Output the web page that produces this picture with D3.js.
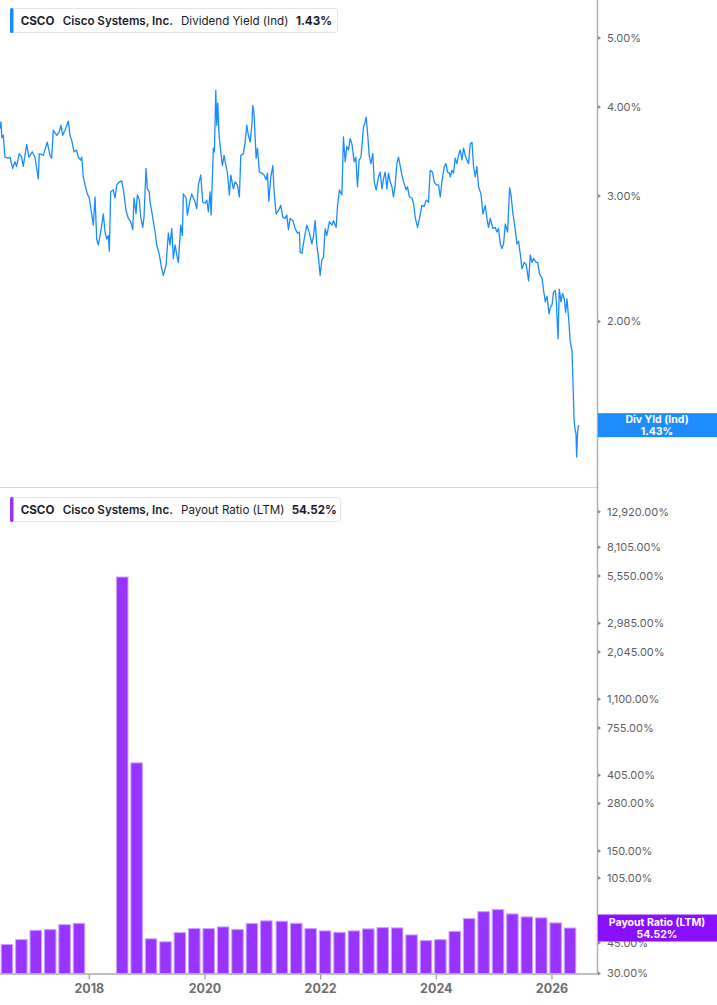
<!DOCTYPE html>
<html><head><meta charset="utf-8">
<script src="https://cdn.jsdelivr.net/npm/d3@7"></script>
<style>
html,body{margin:0;padding:0;background:#fff;}
svg{display:block;font-family:Inter,"Noto Sans",sans-serif;}
</style></head><body>
<svg id="c" width="717" height="1005"></svg>
<script>
// ---- data ----
const yieldDates = [
2016.455,2016.472,2016.490,2016.512,2016.542,2016.599,2016.628,2016.675,2016.714,2016.743,2016.789,2016.830,2016.858,2016.917,2016.957,
2017.014,2017.061,2017.118,2017.135,2017.204,2017.273,2017.320,2017.349,2017.377,2017.436,2017.481,2017.510,2017.540,2017.580,2017.637,
2017.666,2017.696,2017.735,2017.782,2017.810,2017.851,2017.869,2017.896,2017.926,2017.965,
2018.000,2018.042,2018.069,2018.099,2018.128,2018.156,2018.185,2018.215,2018.242,2018.272,2018.301,2018.329,2018.346,2018.370,2018.415,
2018.445,2018.474,2018.519,2018.561,2018.600,2018.635,2018.675,2018.716,2018.751,2018.773,2018.808,2018.830,2018.865,2018.889,2018.924,
2018.946,2018.981,2019.003,2019.038,
2019.050,2019.097,2019.137,2019.166,2019.211,2019.253,2019.280,2019.327,2019.367,2019.396,2019.426,2019.453,2019.483,2019.512,2019.540,
2019.581,2019.609,2019.626,2019.673,2019.696,2019.742,2019.772,2019.799,2019.829,2019.858,2019.886,2019.927,2019.962,
2020.002,2020.031,2020.059,2020.088,2020.106,2020.145,2020.163,2020.187,2020.204,2020.221,2020.244,2020.273,2020.301,2020.330,2020.365,
2020.388,2020.422,2020.446,2020.491,2020.521,2020.561,2020.595,2020.619,2020.664,2020.694,2020.723,2020.751,2020.780,2020.810,2020.827,
2020.849,2020.884,2020.907,2020.941,2020.983,
2021.022,2021.057,2021.080,2021.104,2021.138,2021.173,2021.196,2021.230,2021.270,2021.311,2021.346,2021.386,2021.415,2021.443,2021.472,
2021.519,2021.559,2021.599,2021.633,2021.645,2021.675,2021.715,2021.761,2021.806,2021.848,2021.875,2021.905,2021.934,2021.962,2021.991,
2022.021,2022.048,2022.078,2022.107,2022.152,2022.194,2022.221,2022.268,2022.291,2022.325,2022.367,2022.394,2022.424,2022.453,2022.481,
2022.510,2022.540,2022.580,2022.609,2022.637,2022.666,2022.696,2022.713,2022.740,2022.770,2022.787,2022.817,2022.839,2022.868,2022.903,
2022.926,2022.960,
2023.000,2023.029,2023.059,2023.087,2023.116,2023.145,2023.173,2023.202,2023.232,2023.259,2023.289,2023.318,2023.346,2023.375,2023.404,
2023.433,2023.479,2023.502,2023.536,2023.578,2023.606,2023.635,2023.675,2023.709,2023.751,2023.791,2023.825,2023.865,2023.894,2023.934,
2023.964,2023.998,
2024.038,2024.068,2024.097,2024.137,2024.166,2024.194,2024.228,2024.240,2024.270,2024.298,2024.327,2024.356,2024.384,2024.413,2024.443,
2024.471,2024.500,2024.529,2024.557,2024.586,2024.616,2024.644,2024.673,2024.702,2024.730,2024.772,2024.806,2024.846,2024.875,2024.903,
2024.932,2024.979,
2025.019,2025.048,2025.076,2025.106,2025.135,2025.163,2025.192,2025.232,2025.267,2025.291,2025.325,2025.365,2025.394,2025.422,2025.451,
2025.481,2025.520,2025.555,2025.595,2025.625,2025.654,2025.682,2025.728,2025.751,2025.785,2025.827,2025.855,2025.884,2025.914,2025.948,
2025.971,
2026.000,2026.028,2026.057,2026.075,2026.104,2026.126,2026.156,2026.183,2026.213,2026.235,2026.259,2026.287,2026.316,2026.346,2026.363,
2026.381,2026.398,2026.415,2026.426,2026.443,2026.460
];
const yieldValues = [
3.73,3.81,3.62,3.65,3.40,3.39,3.40,3.28,3.35,3.30,3.44,3.40,3.30,3.54,3.40,
3.46,3.40,3.17,3.44,3.42,3.57,3.42,3.39,3.71,3.65,3.69,3.77,3.65,3.71,3.82,
3.65,3.59,3.46,3.48,3.40,3.37,3.40,3.19,3.11,3.02,
2.98,2.83,2.73,2.99,2.61,2.56,2.64,2.73,2.83,2.67,2.61,2.64,2.51,3.04,3.06,
2.98,3.11,3.14,3.15,3.02,2.86,2.79,2.76,2.69,2.98,2.83,3.01,2.96,2.80,2.71,
2.80,3.28,3.07,3.04,
2.94,2.80,2.67,2.56,2.48,2.37,2.32,2.40,2.66,2.56,2.70,2.45,2.56,2.48,2.42,
2.73,2.64,3.02,2.98,2.82,2.96,3.02,2.98,2.94,2.88,3.11,3.21,2.94,
2.93,2.96,2.85,3.04,2.82,3.50,3.46,4.22,3.77,4.05,3.65,3.46,3.31,3.42,3.30,
3.23,3.01,3.21,3.07,3.14,3.11,2.99,3.42,3.44,3.57,3.77,3.65,3.57,3.77,4.02,
3.90,3.39,3.50,3.24,3.23,
3.21,3.16,3.23,2.95,3.19,3.31,3.04,2.83,2.86,2.91,2.80,2.79,2.82,2.69,2.79,
2.77,2.70,2.66,2.67,2.50,2.49,2.61,2.73,2.66,2.57,2.63,2.77,2.56,2.46,2.32,
2.44,2.46,2.70,2.64,2.76,2.73,2.77,2.71,2.90,3.06,3.01,3.63,3.35,3.52,3.48,
3.61,3.55,3.35,3.40,3.09,3.37,3.40,3.52,3.75,3.81,3.87,3.63,3.42,3.33,3.44,
3.14,3.06,
3.19,3.24,3.07,3.17,3.24,3.07,3.23,3.14,3.09,2.99,3.11,3.33,3.40,3.31,3.21,
3.14,3.06,3.09,2.99,2.98,2.93,2.80,2.71,2.79,2.91,2.90,2.96,2.94,3.26,3.24,
3.14,3.11,
3.11,2.99,3.14,3.30,3.33,3.24,3.23,3.19,3.26,3.23,3.39,3.33,3.42,3.48,3.37,
3.50,3.42,3.37,3.33,3.55,3.57,3.30,3.19,3.30,3.09,3.02,2.83,2.91,2.79,2.71,
2.79,2.70,
2.71,2.67,2.70,2.57,2.53,2.57,2.74,2.67,3.08,3.01,2.83,2.69,2.57,2.59,2.49,
2.37,2.42,2.40,2.28,2.48,2.42,2.45,2.42,2.42,2.33,2.30,2.21,2.13,2.17,2.05,
2.09,
2.11,2.20,2.21,2.13,1.89,2.22,2.13,2.19,2.15,2.06,2.15,2.02,1.87,1.82,1.64,
1.46,1.41,1.39,1.29,1.40,1.43
];
const payoutDates = [
"2016-07-30","2016-10-29","2017-01-28","2017-04-29","2017-07-29","2017-10-28",
"2018-07-28","2018-10-27","2019-01-26","2019-04-27","2019-07-27","2019-10-26",
"2020-01-25","2020-04-25","2020-07-25","2020-10-24","2021-01-23","2021-05-01",
"2021-07-31","2021-10-30","2022-01-29","2022-04-30","2022-07-30","2022-10-29",
"2023-01-28","2023-04-29","2023-07-29","2023-10-28","2024-01-27","2024-04-27",
"2024-07-27","2024-10-26","2025-01-25","2025-04-26","2025-07-26","2025-10-25",
"2026-01-24","2026-04-25"
];
const payoutValues = [
43.9,46.8,52.9,53.4,57.0,58.0,
5480,477,47.3,45.5,51.3,54.1,
54.1,55.3,53.4,57.8,59.9,59.6,
58.0,54.1,52.5,51.5,52.5,53.9,
54.8,54.6,49.8,46.2,46.8,52.2,
61.7,67.6,69.4,65.6,63.1,62.3,
58.3,54.52
];
const yieldTicks = [2, 3, 4, 5];
const payoutTicks = [30, 45, 55, 105, 150, 280, 405, 755, 1100, 2045, 2985, 5550, 8105, 12920];
const yearTicks = [2018, 2020, 2022, 2024, 2026];
const lastYield = 1.43;
const lastPayout = 54.52;

// ---- drawing ----
const axisX = 597;
const topBottom = 487.5, botTop = 490, baseY = 973.5;
const blue = "#1a8cff", purple = "#9933ff", badgePurple = "#8a0fff";
const decYear = y => new Date(Date.UTC(2018,0,1) + (y-2018)*365.25*864e5);
const parse = d3.utcParse("%Y-%m-%d");
const svg = d3.select("#c");

const x = d3.scaleUtc().domain([decYear(2018), decYear(2026)]).range([89.3, 552]);
const yTop = d3.scaleLog().domain([1.169, 5.652]).range([topBottom, 0]);
const yBot = d3.scaleLog().domain([30, 12920]).range([baseY, 511.7]);

const defs = svg.append("defs");
defs.append("clipPath").attr("id","ct").append("rect").attr("x",0).attr("y",0).attr("width",axisX).attr("height",topBottom);
defs.append("clipPath").attr("id","cb").append("rect").attr("x",0).attr("y",botTop).attr("width",axisX).attr("height",baseY-botTop);

svg.append("line").attr("x1",0).attr("x2",axisX).attr("y1",topBottom).attr("y2",topBottom).attr("stroke","#d6d6d6").attr("stroke-width",1);

// yield line
const yieldData = yieldDates.map((d,i)=>({d:decYear(d), v:yieldValues[i]}));
svg.append("path").datum(yieldData).attr("clip-path","url(#ct)")
  .attr("fill","none").attr("stroke",blue).attr("stroke-width",1.3).attr("stroke-linejoin","round")
  .attr("d", d3.line().x(p=>x(p.d)).y(p=>yTop(p.v)));

// payout bars
const payoutData = payoutDates.map((d,i)=>({d:parse(d), v:payoutValues[i]}));
const bw = 11.5;
svg.append("g").attr("clip-path","url(#cb)").selectAll("rect").data(payoutData).join("rect")
  .attr("x", p=>x(p.d)-bw/2).attr("width", bw)
  .attr("y", p=>yBot(p.v)).attr("height", p=>baseY-yBot(p.v))
  .attr("fill", purple).attr("stroke","#c9a3ff").attr("stroke-width",1);

// x axis
svg.append("line").attr("x1",0).attr("x2",axisX).attr("y1",baseY+0.5).attr("y2",baseY+0.5).attr("stroke","#ababab").attr("stroke-width",1.5);
const xa = svg.append("g");
yearTicks.forEach(yr=>{
  const px = x(decYear(yr));
  xa.append("line").attr("x1",px).attr("x2",px).attr("y1",baseY+1).attr("y2",baseY+6).attr("stroke","#999").attr("stroke-width",1.2);
  xa.append("text").attr("x",px).attr("y",993).attr("text-anchor","middle")
    .attr("font-size",12.5).attr("font-weight",700).attr("fill","#6e6e6e").text(yr);
});

// right axis line
svg.append("line").attr("x1",axisX+0.5).attr("x2",axisX+0.5).attr("y1",0).attr("y2",baseY+1).attr("stroke","#b0b0b0").attr("stroke-width",1.5);

const fmtPct = d3.format(",.2f");
function ticks(scale, vals){
  const g = svg.append("g");
  vals.forEach(v=>{
    const py = scale(v);
    g.append("path").attr("d",`M${axisX+1},${py-2}L${axisX+4},${py}L${axisX+1},${py+2}Z`).attr("fill","#8a8a8a");
    g.append("text").attr("x",607).attr("y",py).attr("dy","0.36em")
      .attr("font-size",11).attr("fill","#5f5f5f").text(fmtPct(v)+"%");
  });
}
ticks(yTop, yieldTicks);
ticks(yBot, payoutTicks);

// badges
function badge(cy, h, color, l1, l2){
  const g = svg.append("g");
  g.append("rect").attr("x",axisX+1).attr("y",cy-h/2).attr("width",717-axisX-1).attr("height",h).attr("fill",color);
  g.append("text").attr("x",657).attr("y",cy-1.8).attr("text-anchor","middle").attr("font-size",10.5).attr("font-weight",700).attr("fill","#fff").text(l1);
  g.append("text").attr("x",657).attr("y",cy+9.6).attr("text-anchor","middle").attr("font-size",10.5).attr("font-weight",700).attr("fill","#fff").text(l2);
}
badge(yTop(lastYield), 24, "#1e8cff", "Div Yld (Ind)", fmtPct(lastYield)+"%");
badge(yBot(lastPayout), 27, badgePurple, "Payout Ratio (LTM)", fmtPct(lastPayout)+"%");

// legends
function legend(y0, w, color, parts){
  const g = svg.append("g");
  g.append("rect").attr("x",10.5).attr("y",y0+0.5).attr("width",w).attr("height",24).attr("rx",3)
    .attr("fill","#fff").attr("stroke","#e4e4e4");
  g.append("rect").attr("x",10).attr("y",y0).attr("width",3.5).attr("height",25).attr("rx",1.5).attr("fill",color);
  parts.forEach(p=>{
    g.append("text").attr("x",p[0]).attr("y",y0+17).attr("font-size",11.6).attr("font-weight",p[2]).attr("fill","#1c1c28").text(p[1]);
  });
}
legend(8, 327, blue, [[20.7,"CSCO",700],[62.7,"Cisco Systems, Inc.",600],[181,"Dividend Yield (Ind)",400],[296,fmtPct(lastYield)+"%",700]]);
legend(497, 330, purple, [[20.7,"CSCO",700],[62.7,"Cisco Systems, Inc.",600],[181,"Payout Ratio (LTM)",400],[291.7,fmtPct(lastPayout)+"%",700]]);
</script>
</body></html>
